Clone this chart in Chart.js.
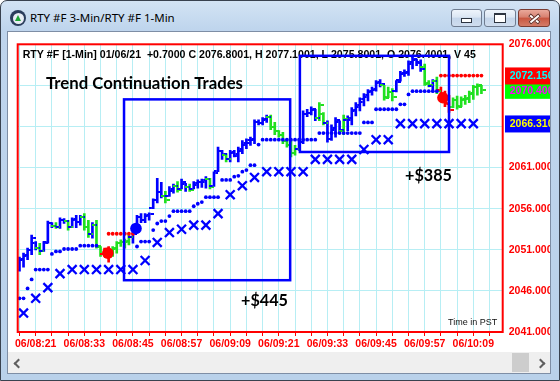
<!DOCTYPE html>
<html><head><meta charset="utf-8">
<script src="https://cdn.jsdelivr.net/npm/chart.js@4.4.1/dist/chart.umd.min.js"></script>
<style>
html,body{margin:0;padding:0;width:560px;height:381px;overflow:hidden;background:#fff}
div{position:absolute;box-sizing:border-box}
#win{left:0;top:0;width:560px;height:381px;border:1px solid #39424f;border-radius:7px 7px 0 0;background:linear-gradient(180deg,#d3e3f4 0px,#bfd5ed 28px,#b9d1ea 100%)}
#icon{left:10px;top:10px;width:16px;height:16px;border-radius:50%;background:#2b3d5c}
#iconin{left:12.5px;top:12.5px;width:11px;height:11px;border-radius:50%;background:#e9eef5}
#icontri{left:15px;top:14.5px;width:0;height:0;border-left:3px solid transparent;border-right:3px solid transparent;border-bottom:6px solid #1fa637}
#title{left:30px;top:10px;font:11.5px "Noto Sans",sans-serif;color:#000;white-space:nowrap;line-height:16px}
.btn{top:9px;height:18px;border:1px solid #6f7c90;border-radius:3px;background:linear-gradient(180deg,#eef4fb 0%,#dbe6f3 45%,#c4d5ea 50%,#d0ddee 100%)}
#bmin{left:451px;width:31px}
#bmax{left:484px;width:32px}
#bclose{left:518px;width:32px;border-color:#7a3b31;background:linear-gradient(180deg,#eaa99b 0%,#d8806f 45%,#c8553f 50%,#d57b67 100%)}
#gmin{left:461px;top:18px;width:11px;height:5px;border:1px solid #2d3440;background:#fff}
#gmax{left:494px;top:13px;width:12px;height:10px;border:1px solid #2d3440;border-top-width:2px;background:#fff}
.xbar{left:528px;top:16.5px;width:13px;height:3.5px;background:#fff;border:0.5px solid #6a2c22}
#x1{transform:rotate(40deg)}
#x2{transform:rotate(-40deg)}
#client{left:7px;top:31px;width:544px;height:343px;border:1px solid #7e8ea5;background:#fff}
#cv{position:absolute;left:8px;top:32px}
#sb{left:8px;top:352px;width:542px;height:21px;background:#efefef}
#thumb{left:504px;top:1px;width:17px;height:19px;background:#cdcdcd}
#al{left:7px;top:7.5px;width:7px;height:7px;border-left:2px solid #5f5f5f;border-bottom:2px solid #5f5f5f;transform:rotate(45deg)}
#ar{left:529px;top:7.5px;width:7px;height:7px;border-right:2px solid #5f5f5f;border-top:2px solid #5f5f5f;transform:rotate(45deg)}
</style></head><body>
<div id="win"></div>
<div id="icon"></div><div id="iconin"></div><div id="icontri"></div>
<div id="title">RTY #F 3-Min/RTY #F 1-Min</div>
<div class="btn" id="bmin"></div><div id="gmin"></div>
<div class="btn" id="bmax"></div><div id="gmax"></div>
<div class="btn" id="bclose"></div><div class="xbar" id="x1"></div><div class="xbar" id="x2"></div>
<div id="client"></div>
<canvas id="cv" width="542" height="320"></canvas>
<div id="sb"><div id="thumb"></div><div id="al"></div><div id="ar"></div></div>
<script>
// ---------------- DATA (1-minute bars, index 0 = 06/08:17) ----------------
const firstBarTime = '06/08:17';
const headerText = 'RTY #F [1-Min] 01/06/21  +0.7000 C 2076.8001, H 2077.1001, L 2075.8001, O 2076.4001, V 45';
const chartTitle = 'Trend Continuation Trades';

// paint state per bar: U = trend (up), P = pullback, X = exit
const barState = [
 'U','U','U','U','U','P','U','U','U','P','U','U','P','U','U','U','P','P','U','P','P','X','X','P','P','P','P','P','U',
 'U','U','U','U','U','U','U','P','U','U','P','U','U','P','U','U','U','U','P','U','U','U','P','U','U','U','U','U','U','U','U','U','U','P','P','P','P','P','P','P','U',
 'U','U','U','U','P','P','U','U','U','U','P','U','U','U','U','U','U','U','U','U','P','P','P','U','U','U','U','U','U','U','P','P','U','P','X','X','X','P','P','P','P','P','P','P','P'];
const barOpen = [
 2048.6,2049.8,2050.3,2051.0,2051.8,2051.2,2050.9,2051.9,2054.2,2053.9,2053.8,2054.6,2054.5,2053.8,2054.6,2054.4,2055.0,2053.8,2052.9,2054.0,2051.3,2050.5,2050.4,2050.8,2051.1,2051.8,2051.9,2052.0,2052.6,
 2053.3,2055.0,2054.6,2055.1,2056.1,2057.0,2058.0,2057.6,2057.6,2058.2,2058.8,2058.4,2059.0,2058.6,2058.4,2058.9,2059.2,2059.3,2059.6,2058.8,2060.6,2063.0,2062.5,2062.0,2062.8,2062.4,2063.0,2063.8,2064.0,2064.4,2066.5,2066.4,2066.8,2067.2,2066.0,2065.4,2065.0,2064.2,2063.8,2062.8,2063.3,
 2064.1,2067.5,2067.6,2068.0,2067.0,2067.5,2066.4,2064.5,2065.6,2066.5,2065.5,2066.8,2066.8,2067.9,2068.4,2069.0,2069.6,2070.2,2070.5,2071.3,2071.0,2069.6,2070.2,2070.3,2071.6,2072.4,2072.5,2073.6,2074.1,2073.8,2073.2,2071.2,2070.9,2071.5,2070.4,2069.4,2068.8,2068.4,2069.2,2068.5,2069.2,2069.4,2070.0,2070.8,2070.9];
const barHigh = [
 2050.1,2050.6,2051.2,2052.8,2052.0,2051.8,2052.0,2054.5,2054.3,2054.3,2054.9,2054.8,2054.6,2054.9,2055.2,2055.2,2055.4,2054.6,2054.3,2054.6,2051.4,2051.2,2051.4,2051.4,2052.0,2052.2,2052.3,2052.8,2053.1,
 2055.2,2055.4,2055.4,2055.5,2057.2,2059.7,2059.2,2058.1,2058.7,2059.0,2059.3,2059.6,2059.1,2059.0,2059.3,2059.5,2059.6,2059.9,2059.7,2060.5,2063.5,2063.1,2062.7,2063.1,2063.1,2063.5,2064.3,2064.5,2064.7,2066.8,2066.8,2067.1,2067.4,2067.4,2066.5,2065.5,2065.3,2064.5,2064.3,2063.7,2064.3,
 2067.9,2068.1,2068.4,2068.1,2068.9,2067.7,2066.7,2066.2,2067.1,2066.7,2067.4,2067.3,2068.3,2068.9,2069.5,2070.0,2070.5,2070.8,2071.6,2071.7,2071.0,2070.8,2070.6,2071.6,2072.7,2072.9,2074.0,2074.5,2074.2,2074.1,2073.6,2071.6,2071.7,2072.0,2070.8,2070.3,2069.8,2069.5,2069.7,2069.6,2069.8,2070.3,2071.0,2071.2,2071.0];
const barLow = [
 2048.4,2048.9,2049.8,2050.4,2051.0,2050.4,2050.8,2051.8,2053.7,2053.6,2053.6,2054.2,2053.4,2053.7,2053.7,2054.0,2053.4,2052.5,2052.4,2051.2,2050.2,2050.2,2049.5,2050.2,2050.6,2051.4,2051.2,2051.6,2051.8,
 2053.1,2054.3,2054.3,2054.6,2056.0,2056.7,2057.3,2056.7,2057.5,2057.9,2058.0,2058.4,2058.1,2058.1,2058.4,2058.5,2058.6,2058.5,2058.4,2058.7,2060.5,2062.0,2061.7,2061.7,2062.3,2061.7,2062.7,2063.3,2063.7,2063.9,2066.2,2066.2,2066.5,2065.6,2065.0,2064.7,2063.9,2063.5,2062.3,2062.5,2063.1,
 2063.9,2067.2,2067.4,2066.7,2066.7,2066.2,2064.1,2064.3,2064.7,2065.3,2065.0,2065.5,2066.2,2067.3,2067.9,2068.5,2069.1,2069.8,2070.3,2070.8,2069.2,2069.5,2069.1,2070.2,2071.5,2072.1,2072.2,2073.0,2073.4,2072.7,2071.0,2070.8,2070.3,2070.0,2069.1,2068.4,2067.7,2068.3,2068.1,2068.4,2068.7,2068.9,2069.3,2069.8,2070.0];
const barClose = [
 2049.9,2050.4,2051.0,2052.4,2051.2,2050.8,2051.8,2054.2,2053.9,2053.8,2054.6,2054.5,2053.8,2054.7,2054.4,2055.0,2053.8,2052.9,2054.0,2051.5,2050.5,2050.4,2050.8,2051.2,2051.8,2051.9,2052.1,2052.6,2052.9,
 2055.0,2054.6,2055.2,2055.3,2057.0,2058.0,2057.6,2057.0,2058.4,2058.8,2058.3,2059.3,2058.6,2058.3,2059.1,2059.3,2059.5,2059.6,2058.6,2060.3,2063.0,2062.6,2062.0,2062.9,2062.6,2063.3,2064.0,2064.3,2064.5,2066.5,2066.4,2066.9,2067.2,2066.0,2065.4,2065.0,2064.2,2063.8,2062.8,2063.3,2064.1,
 2067.5,2067.7,2068.1,2067.0,2068.6,2066.4,2064.5,2065.8,2066.8,2065.6,2066.9,2067.0,2068.0,2068.6,2069.3,2069.8,2070.3,2070.6,2071.4,2071.2,2069.5,2070.2,2069.6,2071.4,2072.5,2072.6,2073.8,2074.2,2073.7,2073.0,2071.3,2071.0,2071.5,2070.3,2069.4,2068.7,2068.0,2069.2,2068.4,2069.3,2069.5,2070.1,2070.8,2071.0,2070.4];

// trailing stop dots (1-min), null = not plotted
const trailStop = [
 2045.1,2045.1,2046.3,2047.4,2048.6,2048.6,2048.6,2048.6,2050.5,2050.8,2050.8,2051.1,2051.1,2051.1,2051.1,2051.5,2051.5,2051.5,2051.5,2051.5,
 null,null,null,null,null,null,null,null,null,
 2051.4,2052.0,2052.0,2052.0,2053.4,2054.2,2054.5,2054.5,2055.1,2055.7,2055.7,2055.7,2055.7,2055.7,2056.3,2056.6,2056.8,2057.4,2057.4,2057.4,2057.4,
 2059.5,2059.5,2059.5,2059.9,2060.0,2060.5,2060.7,2061.3,2061.3,2063.8,
 2064.4,2064.4,2064.4,2064.4,2064.4,2064.4,2064.4,2064.4,2064.4,2064.4,2064.4,2064.4,2064.4,2064.4,
 2065.2,2065.2,2065.2,2065.2,2065.2,2065.2,2065.2,2065.2,2065.2,2065.2,2065.2,
 2066.5,2066.5,2066.5,2068.1,2068.1,2068.1,2068.1,2068.1,2068.1,2068.7,2068.7,2069.9,
 2070.3,2070.3,2070.3,2070.3,2070.3,2070.3,2070.3,
 null,null,null,null,null,null,null,null,null,null,null];

// 3-min X markers
const xMarkMinute = [1,4,7,10,13,16,19,22,25,28,31,34,37,40,43,46,49,52,55,58,61,64,67,70,73,76,79,82,85,88,91,94,97,100,103,106,109,112];
const xMarkValue = [2043.3,2045.1,2046.4,2048.1,2048.6,2048.6,2048.6,2048.6,2048.6,2048.6,2049.7,2051.9,2053.1,2053.5,2054.0,2054.0,2055.4,2057.7,2058.8,2059.8,
 2060.5,2060.5,2060.5,2060.5,2062.0,2062.0,2062.0,2062.0,2063.2,2064.4,2064.4,2066.35,2066.35,2066.35,2066.35,2066.35,2066.35,2066.35];

// red stop-level dots
const redStopMinute = [22,23,24,25,26,27,28,104,105,106,107,108,109,110,111,112,113,114];
const redStopValue = [2052.95,2052.95,2052.95,2052.95,2052.95,2052.95,2052.95,2072.2,2072.2,2072.2,2072.2,2072.2,2072.2,2072.2,2072.2,2072.2,2072.2,2072.2];

// trade markers
const entryMinute = [28.75];
const entryValue = [2053.6];
const exitMinute = [21.8, 104.5];
const exitValue = [2050.6, 2069.5];

// trade boxes (minute index / price)
const boxStart = [25.8, 69.2];
const boxEnd = [66.8, 106.0];
const boxHigh = [2069.3, 2074.6];
const boxLow = [2047.3, 2062.9];
const boxProfit = ['+$445', '+$385'];

// axis labels
const xTickLabels = ['06/08:21','06/08:33','06/08:45','06/08:57','06/09:09','06/09:21','06/09:33','06/09:45','06/09:57','06/10:09'];
const yTickLabels = ['2041.000','2046.000','2051.000','2056.000','2061.000','2066.000','2071.000','2076.000'];

// right-axis price badges: stop, last, X-level
const badgeValue = [2072.15, 2070.40, 2066.31];
const badgeText = ['2072.150', '2070.400', '2066.310'];

// ---------------- STYLE ----------------
const BLUE = '#0000ff', GREEN = '#1fe01f', RED = '#ff0000', GRID = '#b7eef4';
const stateColor = {U: BLUE, P: GREEN, X: RED};
const AX_FONT = '"Liberation Sans", Arial, sans-serif';
const badgeStyle = [{bg: RED, fg: '#00ffff'}, {bg: '#00ff00', fg: '#ff00ff'}, {bg: BLUE, fg: '#ffff00'}];

function tickImg(color, side) {
  const c = document.createElement('canvas');
  c.width = 9; c.height = 2;
  const g = c.getContext('2d');
  g.fillStyle = color;
  if (side === 'L') g.fillRect(0, 0, 3.5, 2); else g.fillRect(5.5, 0, 3.5, 2);
  return c;
}
const openImg = {}, closeImg = {};
for (const k in stateColor) { openImg[k] = tickImg(stateColor[k], 'L'); closeImg[k] = tickImg(stateColor[k], 'R'); }

function fitSize(ctx, text, font, base, targetW) {
  ctx.font = 'bold ' + base + 'px ' + font;
  return base * targetW / ctx.measureText(text).width;
}

const overlay = {
  id: 'overlay',
  beforeDatasetsDraw(chart) {
    const {ctx, chartArea: a} = chart;
    ctx.save();
    ctx.fillStyle = '#000';
    ctx.textBaseline = 'middle';
    ctx.textAlign = 'left';
    ctx.font = 'bold 10.6px ' + AX_FONT;
    ctx.fillText(headerText, a.left + 5, a.top + 11);
    const tf = '"Lato", "Open Sans", sans-serif';
    const s = fitSize(ctx, chartTitle, tf, 17, 197);
    ctx.font = 'bold ' + s + 'px ' + tf;
    ctx.fillText(chartTitle, a.left + 28.3, a.top + 39.5);
    ctx.restore();
  },
  afterDatasetsDraw(chart) {
    const {ctx, chartArea: a, scales: {x, y}} = chart;
    ctx.save();
    // trade boxes
    ctx.strokeStyle = BLUE;
    ctx.lineWidth = 2.5;
    for (let i = 0; i < boxStart.length; i++) {
      const x0 = x.getPixelForValue(boxStart[i]), x1 = x.getPixelForValue(boxEnd[i]);
      const y0 = y.getPixelForValue(boxHigh[i]), y1 = y.getPixelForValue(boxLow[i]);
      ctx.strokeRect(x0, y0, x1 - x0, y1 - y0);
    }
    // profit labels
    const tf = '"Lato", "Open Sans", sans-serif';
    ctx.fillStyle = '#000';
    ctx.textBaseline = 'middle';
    ctx.textAlign = 'left';
    const ps = fitSize(ctx, boxProfit[0], tf, 16, 47);
    ctx.font = 'bold ' + ps + 'px ' + tf;
    ctx.fillText(boxProfit[0], a.left + 223.3, a.top + 256.3);
    ctx.fillText(boxProfit[1], a.left + 387.3, a.top + 131.3);
    // time zone note
    ctx.font = '9px ' + AX_FONT;
    ctx.textAlign = 'right';
    ctx.fillStyle = '#111';
    ctx.fillText('Time in PST', a.right - 5.5, a.bottom - 9.5);
    // plot border
    ctx.strokeStyle = RED;
    ctx.lineWidth = 2;
    ctx.strokeRect(a.left, a.top, a.right - a.left, a.bottom - a.top);
    // price badges
    ctx.font = 'bold 10.5px ' + AX_FONT;
    ctx.textAlign = 'left';
    for (const i of [2, 1, 0]) {
      const py = y.getPixelForValue(badgeValue[i]);
      ctx.fillStyle = badgeStyle[i].bg;
      ctx.fillRect(a.right + 2.3, py - 8.5, chart.width - a.right, 17);
      ctx.fillStyle = badgeStyle[i].fg;
      ctx.fillText(badgeText[i], a.right + 7, py + 0.5);
    }
    ctx.restore();
  }
};

const pts = (xs, ys) => xs.map((m, i) => ({x: m, y: ys[i]}));
const trailPts = trailStop.map((v, i) => v === null ? null : {x: i, y: v}).filter(p => p);

new Chart(document.getElementById('cv'), {
  type: 'scatter',
  data: {
    datasets: [
      {type: 'scatter', data: pts(entryMinute, entryValue), pointRadius: 5.8, pointBackgroundColor: BLUE, pointBorderWidth: 0, order: 1},
      {type: 'scatter', data: pts(exitMinute, exitValue), pointRadius: 5.8, pointBackgroundColor: RED, pointBorderWidth: 0, order: 1},
      {type: 'scatter', data: pts(redStopMinute, redStopValue), pointRadius: 1.9, pointBackgroundColor: RED, pointBorderWidth: 0, order: 2},
      {type: 'scatter', data: pts(xMarkMinute, xMarkValue), pointStyle: 'crossRot', pointRadius: 6.3, pointBorderColor: BLUE, pointBorderWidth: 2.3, order: 3},
      {type: 'scatter', data: trailPts, pointRadius: 1.9, pointBackgroundColor: BLUE, pointBorderWidth: 0, order: 4},
      {type: 'scatter', data: barOpen.map((v, i) => ({x: i, y: v})), pointRadius: 3,
        pointStyle: c => openImg[barState[c.dataIndex]], order: 8},
      {type: 'scatter', data: barClose.map((v, i) => ({x: i, y: v})), pointRadius: 3,
        pointStyle: c => closeImg[barState[c.dataIndex]], order: 8},
      {type: 'bar', data: barHigh.map((h, i) => ({x: i, y: [barLow[i], h]})),
        backgroundColor: barState.map(s => stateColor[s]), barThickness: 2, borderWidth: 0, grouped: false, order: 10}
    ]
  },
  options: {
    responsive: false, animation: false, devicePixelRatio: 1, events: [],
    layout: {padding: {left: 9.7, top: 8.7, right: 0, bottom: 0}},
    plugins: {legend: {display: false}, tooltip: {enabled: false}},
    scales: {
      x: {
        type: 'linear', position: 'bottom', min: -0.44, max: 119.25, offset: false,
        afterBuildTicks(s) { const t = []; for (let m = 0; m <= 116; m += 4) t.push({value: m}); s.ticks = t; },
        afterFit(s) { s.height = 20; },
        grid: {color: GRID, tickColor: RED, tickLength: 4, drawTicks: true, offset: false, lineWidth: 1},
        border: {display: false},
        ticks: {autoSkip: false, maxRotation: 0, minRotation: 0, padding: 2, color: RED,
          font: {family: AX_FONT, weight: 'bold', size: 10.5},
          callback(v) { return ((v - 4) % 12 === 0 && v >= 4) ? xTickLabels[(v - 4) / 12] : ''; }}
      },
      y: {
        type: 'linear', position: 'right', min: 2041, max: 2076,
        afterBuildTicks(s) { s.ticks = yTickLabels.map(t => ({value: parseFloat(t)})); },
        afterFit(s) { s.width = 47.3; },
        grid: {color: GRID, drawTicks: false, lineWidth: 1},
        border: {display: false},
        ticks: {autoSkip: false, padding: 6, color: RED, font: {family: AX_FONT, weight: 'bold', size: 10.5},
          callback(v, i) { return yTickLabels[i]; }}
      }
    }
  },
  plugins: [overlay]
});
</script>
</body></html>
